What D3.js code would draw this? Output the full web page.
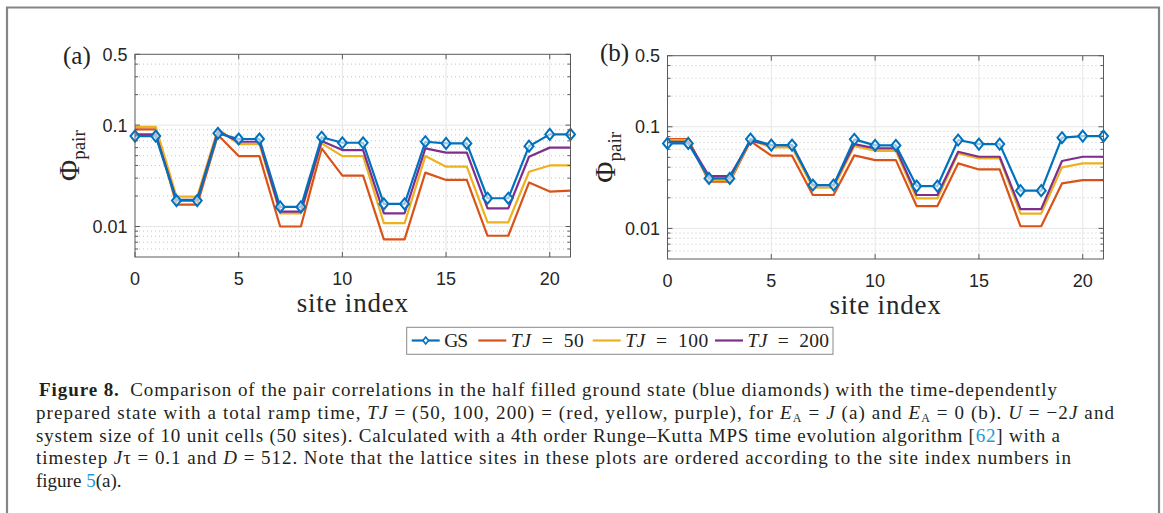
<!DOCTYPE html>
<html><head><meta charset="utf-8">
<script src="https://cdn.jsdelivr.net/npm/d3@7"></script>
<style>body{margin:0;background:#fff} svg{display:block}</style>
</head><body><svg id="c" width="1163" height="513"></svg>
<script>
// ---------------- data ----------------
const sites = d3.range(0, 22);
const xTicks = [0, 5, 10, 15, 20];
const yTicks = [0.01, 0.1, 0.5];
const yTickLabels = ["0.01", "0.1", "0.5"];
const seriesNames = ["GS", "TJ", "TJ", "TJ"];
const seriesValuesLabel = ["", "50", "100", "200"];
const seriesColors = ["#0072BD", "#D95319", "#EDB120", "#7E2F8E"];

const gsA    = [0.078,0.078,0.018,0.018,0.083,0.073,0.073,0.0156,0.0156,0.076,0.067,0.067,0.0167,0.0167,0.0686,0.066,0.066,0.019,0.019,0.062,0.081,0.081];
const tj50A  = [0.091,0.091,0.0164,0.0164,0.080,0.0495,0.0495,0.0100,0.0100,0.059,0.0318,0.0318,0.00745,0.00745,0.034,0.0288,0.0288,0.0081,0.0081,0.0271,0.0221,0.0226];
const tj100A = [0.096,0.096,0.0197,0.0197,0.092,0.065,0.065,0.0135,0.0135,0.066,0.0495,0.0495,0.0108,0.0108,0.0495,0.0389,0.0389,0.0110,0.0110,0.0347,0.040,0.040];
const tj200A = [0.081,0.081,0.0183,0.0183,0.087,0.0686,0.0686,0.0140,0.0140,0.0696,0.0567,0.0567,0.0135,0.0135,0.059,0.0535,0.0535,0.0151,0.0151,0.0488,0.060,0.060];

const gsB    = [0.0686,0.0686,0.031,0.031,0.0756,0.066,0.066,0.0267,0.0267,0.0752,0.0655,0.0655,0.0261,0.0261,0.074,0.0675,0.0675,0.0235,0.0235,0.078,0.081,0.081];
const tj50B  = [0.0756,0.0756,0.0288,0.0288,0.0723,0.0519,0.0519,0.0213,0.0213,0.0523,0.047,0.047,0.0166,0.0166,0.0436,0.038,0.038,0.0105,0.0105,0.0277,0.0299,0.0299];
const tj100B = [0.074,0.074,0.0299,0.0299,0.074,0.0626,0.0626,0.0251,0.0251,0.0645,0.058,0.058,0.0197,0.0197,0.0547,0.0488,0.0488,0.0140,0.0140,0.0398,0.0436,0.0436];
const tj200B = [0.0712,0.0712,0.0327,0.0327,0.0728,0.066,0.066,0.0267,0.0267,0.0675,0.0612,0.0612,0.0213,0.0213,0.0568,0.0507,0.0507,0.0155,0.0155,0.046,0.0507,0.0507];

const panelLabels = ["(a)", "(b)"];
const xLabel = "site index";

// ---------------- drawing ----------------
const svg = d3.select("#c");
const SERIF = "'Liberation Serif','Times New Roman',serif";
const SANS = "'Liberation Sans',Arial,Helvetica,sans-serif";

// outer frame
svg.append("path")
  .attr("d", "M7,520 L7,7.5 L1159,7.5 L1159,520")
  .attr("fill", "none").attr("stroke", "#858585").attr("stroke-width", 2.2);

const panels = [
  {left: 135, top: 54.3, w: 435.5, h: 202.7, labX: 63, labY: 64, ylabX: 79,
   series: [gsA, tj50A, tj100A, tj200A]},
  {left: 667.5, top: 55.7, w: 436, h: 203.3, labX: 600, labY: 61, ylabX: 615,
   series: [gsB, tj50B, tj100B, tj200B]}
];

panels.forEach((p, pi) => {
  const x = d3.scaleLinear().domain([0, 21]).range([p.left, p.left + p.w]);
  const y = d3.scaleLog().domain([0.005, 0.5]).range([p.top + p.h, p.top]);
  const g = svg.append("g");

  const minor = y.ticks().filter(v => !yTicks.some(t => Math.abs(t - v) / t < 1e-6) && v > 0.0051);

  // minor dotted grid
  g.append("g").selectAll("line").data(minor).join("line")
    .attr("x1", p.left).attr("x2", p.left + p.w)
    .attr("y1", d => y(d)).attr("y2", d => y(d))
    .attr("stroke", "#c4c4c4").attr("stroke-width", 1)
    .attr("stroke-dasharray", "1,3");
  // major grid
  g.append("g").selectAll("line").data(yTicks.slice(0, 2)).join("line")
    .attr("x1", p.left).attr("x2", p.left + p.w)
    .attr("y1", d => y(d)).attr("y2", d => y(d))
    .attr("stroke", "#e6e6e6").attr("stroke-width", 1);
  g.append("g").selectAll("line").data(xTicks.slice(1)).join("line")
    .attr("x1", d => x(d)).attr("x2", d => x(d))
    .attr("y1", p.top).attr("y2", p.top + p.h)
    .attr("stroke", "#e6e6e6").attr("stroke-width", 1);

  const line = d3.line().x((d, i) => x(sites[i])).y(d => y(d));
  // draw TJ series then GS on top
  [1, 2, 3, 0].forEach(si => {
    g.append("path").datum(p.series[si])
      .attr("d", line).attr("fill", "none")
      .attr("stroke", seriesColors[si]).attr("stroke-width", 2.2)
      .attr("stroke-linejoin", "round");
  });
  // diamonds for GS
  g.append("g").selectAll("path").data(p.series[0]).join("path")
    .attr("d", (d, i) => {
      const cx = x(sites[i]), cy = y(d);
      return `M${cx},${cy - 5.5}L${cx + 4.5},${cy}L${cx},${cy + 5.5}L${cx - 4.5},${cy}Z`;
    })
    .attr("fill", "#fff").attr("fill-opacity", 0.6)
    .attr("stroke", seriesColors[0]).attr("stroke-width", 2);

  // box
  g.append("rect").attr("x", p.left).attr("y", p.top).attr("width", p.w).attr("height", p.h)
    .attr("fill", "none").attr("stroke", "#5a5a5a").attr("stroke-width", 1);

  // ticks (inside, all four sides)
  const tk = g.append("g").attr("stroke", "#5a5a5a").attr("stroke-width", 1);
  xTicks.forEach(t => {
    tk.append("line").attr("x1", x(t)).attr("x2", x(t)).attr("y1", p.top + p.h).attr("y2", p.top + p.h - 5);
    tk.append("line").attr("x1", x(t)).attr("x2", x(t)).attr("y1", p.top).attr("y2", p.top + 5);
  });
  yTicks.forEach(t => {
    tk.append("line").attr("x1", p.left).attr("x2", p.left + 5).attr("y1", y(t)).attr("y2", y(t));
    tk.append("line").attr("x1", p.left + p.w).attr("x2", p.left + p.w - 5).attr("y1", y(t)).attr("y2", y(t));
  });
  minor.forEach(t => {
    tk.append("line").attr("x1", p.left).attr("x2", p.left + 3).attr("y1", y(t)).attr("y2", y(t));
    tk.append("line").attr("x1", p.left + p.w).attr("x2", p.left + p.w - 3).attr("y1", y(t)).attr("y2", y(t));
  });

  // tick labels
  g.append("g").selectAll("text").data(xTicks).join("text")
    .attr("x", d => x(d)).attr("y", p.top + p.h + 28)
    .attr("text-anchor", "middle").attr("font-family", SANS).attr("font-size", 18)
    .attr("fill", "#262626").text(d => d);
  g.append("g").selectAll("text").data(yTicks).join("text")
    .attr("x", p.left - 7.5).attr("y", d => y(d)).attr("dy", "0.36em")
    .attr("text-anchor", "end").attr("font-family", SANS).attr("font-size", 18)
    .attr("fill", "#262626").text((d, i) => yTickLabels[i]);

  // x label
  g.append("text").attr("x", p.left + p.w / 2).attr("y", p.top + p.h + 55)
    .attr("text-anchor", "middle").attr("font-family", SERIF).attr("font-size", 27)
    .attr("letter-spacing", 0.8).attr("fill", "#262626").text(xLabel);

  // y label
  const yl = g.append("text")
    .attr("transform", `translate(${p.ylabX},${p.top + p.h / 2}) rotate(-90)`)
    .attr("text-anchor", "middle").attr("font-family", SERIF).attr("fill", "#262626");
  yl.append("tspan").attr("font-size", 29).text("Φ");
  yl.append("tspan").attr("font-size", 19).attr("dy", 6).text("pair");

  // panel label
  g.append("text").attr("x", p.labX).attr("y", p.labY)
    .attr("font-family", SERIF).attr("font-size", 25).attr("fill", "#222")
    .text(panelLabels[pi]);
});

// ---------------- legend ----------------
const lg = svg.append("g");
lg.append("rect").attr("x", 406.7).attr("y", 327.3).attr("width", 426.3).attr("height", 27)
  .attr("fill", "#fff").attr("stroke", "#8a8a8a").attr("stroke-width", 1);
const legX = [411.7, 478.3, 592.7, 715];
const legW = [24, 73, 83, 81.6];
const ly = 340.5;
seriesNames.forEach((n, i) => {
  const x0 = legX[i];
  lg.append("line").attr("x1", x0).attr("x2", x0 + 28).attr("y1", ly).attr("y2", ly)
    .attr("stroke", seriesColors[i]).attr("stroke-width", 2.2);
  if (i === 0) {
    const cx = x0 + 14;
    lg.append("path").attr("d", `M${cx},${ly - 3.5}L${cx + 2.8},${ly}L${cx},${ly + 3.5}L${cx - 2.8},${ly}Z`)
      .attr("fill", "#fff").attr("stroke", seriesColors[0]).attr("stroke-width", 1.6);
  }
  const t = lg.append("text").attr("x", x0 + 32.5).attr("y", ly + 6.5)
    .attr("font-family", SERIF).attr("font-size", 19.5).attr("fill", "#222")
    .attr("textLength", legW[i]).attr("lengthAdjust", "spacing");
  if (i === 0) t.text(n);
  else {
    t.append("tspan").attr("font-style", "italic").text(n);
    t.append("tspan").text("\u2002=\u2002" + seriesValuesLabel[i]);
  }
});

// ---------------- caption ----------------
const capLines = [
  {x: 39, end: 1057, spans: [
    {t: "Figure\u00a08.", b: 1},
    {t: "\u2002Comparison of the pair correlations in the half filled ground state (blue diamonds) with the time-dependently"}]},
  {x: 36, end: 1114, spans: [
    {t: "prepared state with a total ramp time, "}, {t: "TJ", i: 1},
    {t: " = (50, 100, 200) = (red, yellow, purple), for "}, {t: "E", i: 1}, {t: "A", sub: 1},
    {t: " = ", up: 1}, {t: "J", i: 1}, {t: " (a) and "}, {t: "E", i: 1}, {t: "A", sub: 1},
    {t: " = 0 (b). ", up: 1}, {t: "U", i: 1}, {t: " = \u22122"}, {t: "J", i: 1}, {t: " and"}]},
  {x: 36, end: 1060, spans: [
    {t: "system size of 10 unit cells (50 sites). Calculated with a 4th order Runge\u2013Kutta MPS time evolution algorithm ["},
    {t: "62", link: 1}, {t: "] with a"}]},
  {x: 36, end: 1071, spans: [
    {t: "timestep "}, {t: "J", i: 1}, {t: "\u03c4 = 0.1 and "}, {t: "D", i: 1},
    {t: " = 512. Note that the lattice sites in these plots are ordered according to the site index numbers in"}]},
  {x: 36, end: null, spans: [
    {t: "figure "}, {t: "5", link: 1}, {t: "(a)."}]}
];
const cap = svg.append("g");
capLines.forEach((ln, li) => {
  const t = cap.append("text").attr("x", ln.x).attr("y", 396 + li * 22.8)
    .attr("font-family", SERIF).attr("font-size", 19).attr("fill", "#231f20");
  ln.spans.forEach(s => {
    const ts = t.append("tspan").text(s.t);
    if (s.b) ts.attr("font-weight", "bold");
    if (s.i) ts.attr("font-style", "italic");
    if (s.link) ts.attr("fill", "#1e9ad6");
    if (s.sub) ts.attr("font-size", 12).attr("dy", 3);
    if (s.up) ts.attr("dy", -3);
  });
  if (ln.end) t.attr("textLength", ln.end - ln.x).attr("lengthAdjust", "spacing");
});
</script>
</body></html>
